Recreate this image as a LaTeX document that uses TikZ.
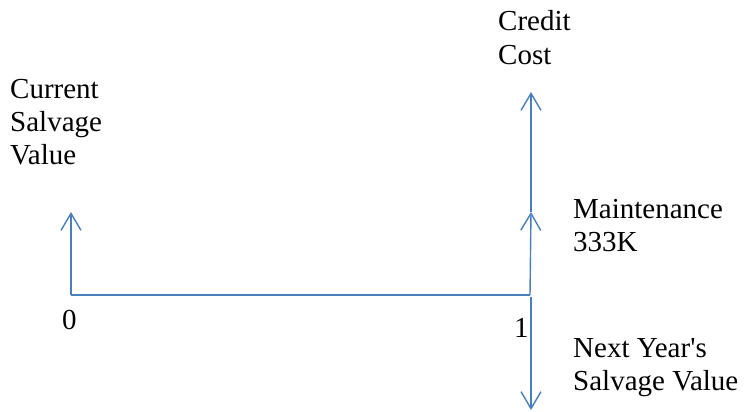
\documentclass[tikz,border=0pt]{standalone}
\usepackage{fontspec}
\setmainfont{Liberation Serif}
\usepackage{tikz}
\usetikzlibrary{arrows.meta}
\definecolor{flowblue}{RGB}{74,126,187}

\begin{document}
\begin{tikzpicture}[x=1pt, y=-1pt, >={Straight Barb[length=17pt,width=20pt]},
  flow/.style={draw=flowblue, line width=1.4pt},
  lbl/.style={anchor=base west, inner sep=0pt, align=left, font=\fontsize{29}{33}\selectfont}]
\useasboundingbox (0,0) rectangle (744,412);
% time points and arrow ends
\coordinate (zero) at (71,295);
\coordinate (one) at (530,295);
\coordinate (cur) at (71,212);
\coordinate (mnt) at (531,212);
\coordinate (crd) at (531,92);
\coordinate (onebelow) at (531,297);
\coordinate (nxt) at (531,410);
% connectors
\draw[flow] (zero) -- (one);
\draw[flow,->] (zero) -- (cur);
\draw[flow,->] (one) -- (mnt);
\draw[flow,->] (mnt) -- (crd);
\draw[flow,->] (onebelow) -- (nxt);
% labels (anchored at the last line's baseline)
\node[lbl] (curlbl) at (10,164) {Current\\Salvage\\Value};
\node[lbl] (crdlbl) at (498,64) {Credit\\Cost};
\node[lbl] (mntlbl) at (573,251) {Maintenance\\333K};
\node[lbl] (nxtlbl) at (573,390) {Next Year\textquotesingle s\\Salvage Value};
\node[lbl] (zerolbl) at (62,329) {0};
\node[lbl] (onelbl) at (514,337) {1};
\end{tikzpicture}
\end{document}
